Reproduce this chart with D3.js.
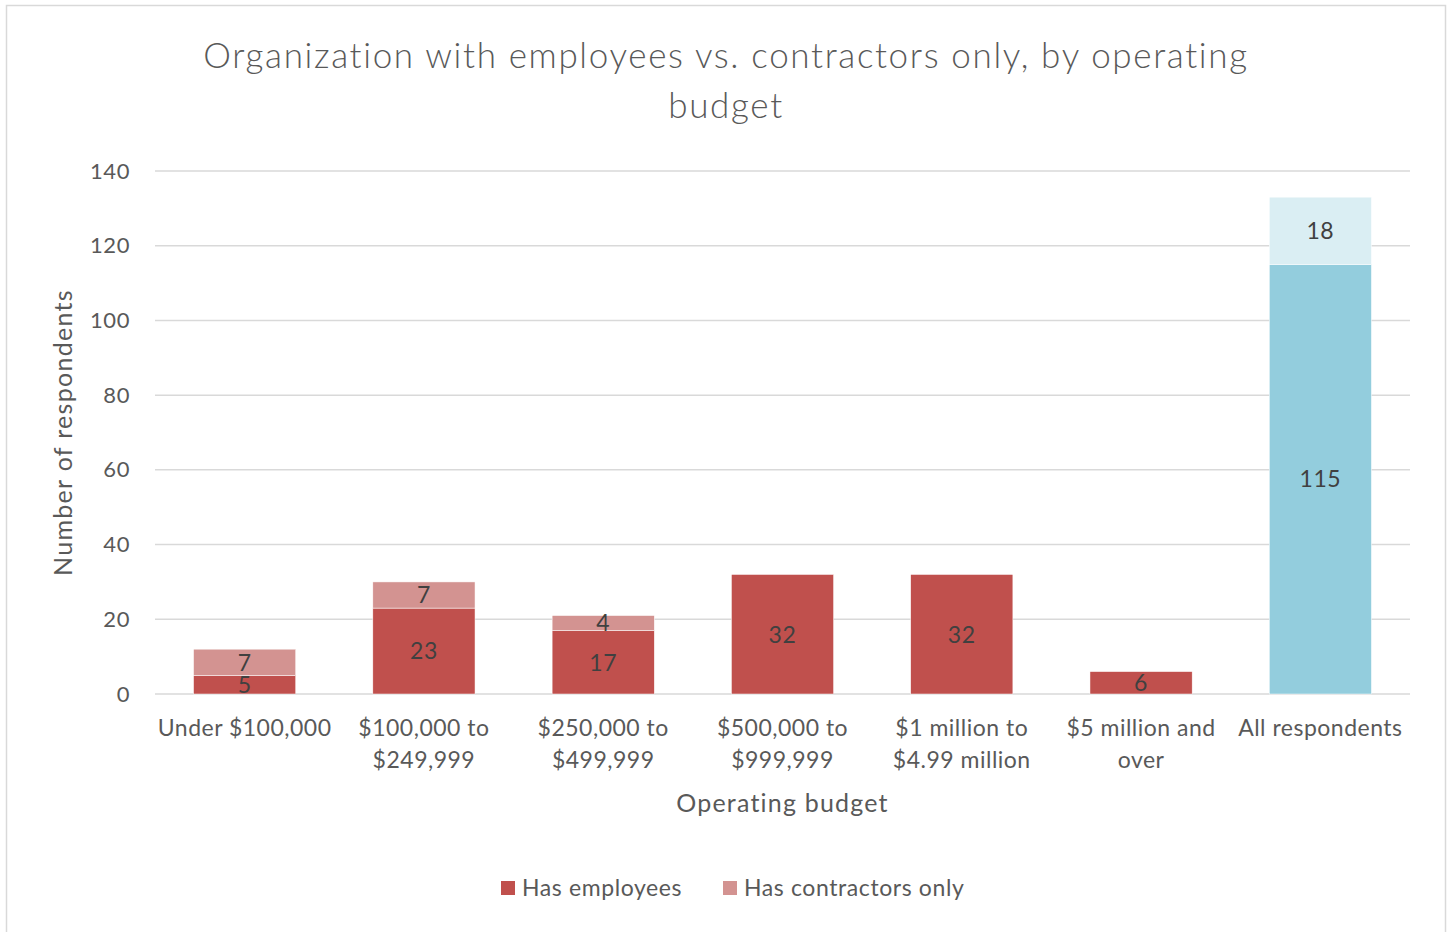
<!DOCTYPE html>
<html>
<head>
<meta charset="utf-8">
<script src="https://cdn.jsdelivr.net/npm/d3@7"></script>
<style>
  html, body { margin: 0; padding: 0; background: #fff; }
  svg { display: block; font-family: Lato, "Noto Sans", sans-serif; }
</style>
</head>
<body>
<svg id="chart" width="1449" height="932"></svg>
<script>
// Survey data: organizations by operating budget
const categories = [
  ["Under $100,000"],
  ["$100,000 to", "$249,999"],
  ["$250,000 to", "$499,999"],
  ["$500,000 to", "$999,999"],
  ["$1 million to", "$4.99 million"],
  ["$5 million and", "over"],
  ["All respondents"]
];
const hasEmployees = [5, 23, 17, 32, 32, 6, 115];
const contractorsOnly = [7, 7, 4, 0, 0, 0, 18];
const yTicks = [0, 20, 40, 60, 80, 100, 120, 140];
const seriesNames = ["Has employees", "Has contractors only"];

// Colours: red pair for budget groups, blue pair for the overall total
const palette = {
  group: ["#C0504D", "#D39391"],
  total: ["#93CDDD", "#DAEEF3"]
};

const svg = d3.select("#chart");
const plot = { left: 155, right: 1410, top: 171, bottom: 694 };

// Outer chart border
svg.append("rect")
  .attr("x", 6.5).attr("y", 5.5)
  .attr("width", 1439).attr("height", 930)
  .attr("fill", "#fff").attr("stroke", "#D9D9D9").attr("stroke-width", 1.5);

// Title
const title = svg.append("text")
  .attr("text-anchor", "middle")
  .attr("fill", "#595959")
  .style("font-size", "35px")
  .style("font-weight", 300)
  .style("letter-spacing", "1.65px");
title.append("tspan").attr("x", 726).attr("y", 68)
  .text("Organization with employees vs. contractors only, by operating");
title.append("tspan").attr("x", 726).attr("y", 118).text("budget");

const keys = categories.map((c, i) => i);
const x = d3.scaleBand()
  .domain(keys)
  .range([plot.left, plot.right])
  .paddingInner(0.43)
  .paddingOuter(0.215);

const y = d3.scaleLinear().domain([0, 140]).range([plot.bottom, plot.top]);

// Gridlines
svg.append("g")
  .selectAll("line")
  .data(yTicks)
  .join("line")
  .attr("x1", plot.left).attr("x2", plot.right)
  .attr("y1", d => y(d)).attr("y2", d => y(d))
  .attr("stroke", "#D9D9D9").attr("stroke-width", 1.5);

// Y axis labels
const yAxis = d3.axisLeft(y).tickValues(yTicks).tickSize(0).tickPadding(25);
const gy = svg.append("g").attr("transform", `translate(${plot.left},0)`).call(yAxis);
gy.select(".domain").remove();
gy.selectAll("text")
  .attr("fill", "#595959")
  .style("font-size", "22px")
  .style("letter-spacing", "0.6px")
  .style("font-family", "Lato, 'Noto Sans', sans-serif");

// Stacked series
const rows = keys.map(i => ({ i, emp: hasEmployees[i], con: contractorsOnly[i] }));
const stack = d3.stack().keys(["emp", "con"]);
const layers = stack(rows);

const colorFor = (layerIdx, i) =>
  (i === categories.length - 1 ? palette.total : palette.group)[layerIdx];

layers.forEach((layer, li) => {
  const g = svg.append("g");
  const segs = layer.filter(d => d[1] - d[0] > 0);
  g.selectAll("rect")
    .data(segs)
    .join("rect")
    .attr("x", d => x(d.data.i))
    .attr("width", x.bandwidth())
    .attr("y", d => y(d[1]))
    .attr("height", d => y(d[0]) - y(d[1]))
    .attr("fill", d => colorFor(li, d.data.i))
    .attr("stroke", "#fff").attr("stroke-width", 0.5);

  g.selectAll("text")
    .data(segs)
    .join("text")
    .attr("x", d => x(d.data.i) + x.bandwidth() / 2)
    .attr("y", d => (y(d[0]) + y(d[1])) / 2)
    .attr("dy", "0.36em")
    .attr("text-anchor", "middle")
    .attr("fill", "#404040")
    .style("font-size", "23px")
    .style("letter-spacing", "0.6px")
    .text(d => d[1] - d[0]);
});

// Category labels
const xl = svg.append("g");
categories.forEach((lines, i) => {
  const t = xl.append("text")
    .attr("text-anchor", "middle")
    .attr("fill", "#595959")
    .style("font-size", "23px")
    .style("letter-spacing", "0.5px");
  lines.forEach((ln, k) => {
    t.append("tspan")
      .attr("x", x(i) + x.bandwidth() / 2)
      .attr("y", 736 + k * 32)
      .text(ln);
  });
});

// Axis titles
svg.append("text")
  .attr("x", (plot.left + plot.right) / 2).attr("y", 812)
  .attr("text-anchor", "middle").attr("fill", "#595959")
  .style("font-size", "25px")
  .style("letter-spacing", "1.2px")
  .text("Operating budget");

svg.append("text")
  .attr("transform", `translate(72,${(plot.top + plot.bottom) / 2}) rotate(-90)`)
  .attr("text-anchor", "middle").attr("fill", "#595959")
  .style("font-size", "25px")
  .style("letter-spacing", "1.3px")
  .text("Number of respondents");

// Legend
const legend = svg.append("g");
const legendX = [501, 723];
seriesNames.forEach((name, k) => {
  legend.append("rect")
    .attr("x", legendX[k]).attr("y", 881)
    .attr("width", 14).attr("height", 14)
    .attr("fill", palette.group[k]);
  legend.append("text")
    .attr("x", legendX[k] + 21).attr("y", 896)
    .attr("fill", "#595959")
    .style("font-size", "23px")
    .style("letter-spacing", "0.6px")
    .text(name);
});
</script>
</body>
</html>
